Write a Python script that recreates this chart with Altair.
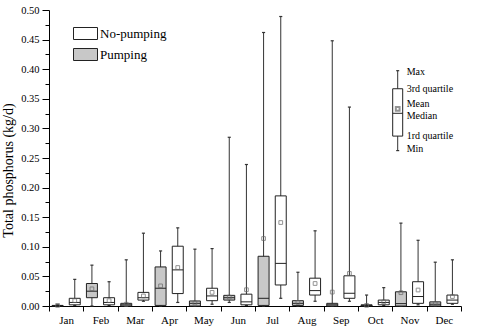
import json
import altair as alt
import pandas as pd

months = ["Jan", "Feb", "Mar", "Apr", "May", "Jun", "Jul", "Aug", "Sep", "Oct", "Nov", "Dec"]
groups = ["No-pumping", "Pumping"]

# Pumping (grey boxes)
p_min = [0.0, 0.0, 0.0, 0.0, 0.0, 0.006, 0.0, 0.0, 0.0, 0.0, 0.0, 0.0]
p_q1 = [0.0, 0.014, 0.0, 0.001, 0.0, 0.010, 0.001, 0.001, 0.0, 0.0, 0.0, 0.0]
p_med = [0.0005, 0.025, 0.002, 0.030, 0.0045, 0.014, 0.013, 0.0045, 0.002, 0.001, 0.004, 0.003]
p_q3 = [0.001, 0.038, 0.0045, 0.066, 0.0085, 0.018, 0.084, 0.009, 0.0045, 0.002, 0.024, 0.007]
p_max = [0.002, 0.069, 0.078, 0.093, 0.096, 0.285, 0.462, 0.057, 0.448, 0.0185, 0.140, 0.074]
p_mean = [0.001, 0.029, 0.003, 0.034, 0.005, 0.015, 0.114, 0.006, 0.0235, 0.001, 0.0225, 0.004]

# No-pumping (white boxes)
n_min = [0.001, 0.001, 0.008, 0.006, 0.003, 0.001, 0.013, 0.008, 0.008, 0.001, 0.002, 0.003]
n_q1 = [0.002, 0.002, 0.010, 0.021, 0.009, 0.002, 0.0355, 0.0185, 0.013, 0.002, 0.0045, 0.0045]
n_med = [0.006, 0.006, 0.014, 0.061, 0.017, 0.007, 0.072, 0.026, 0.0215, 0.006, 0.016, 0.010]
n_q3 = [0.013, 0.014, 0.023, 0.101, 0.030, 0.020, 0.186, 0.047, 0.051, 0.010, 0.041, 0.0185]
n_max = [0.045, 0.041, 0.123, 0.132, 0.097, 0.239, 0.489, 0.127, 0.336, 0.031, 0.111, 0.078]
n_mean = [0.009, 0.009, 0.017, 0.065, 0.023, 0.0275, 0.141, 0.038, 0.055, 0.007, 0.027, 0.016]

# Key (explanation box) values and labels
key_names = ["Max", "3rd quartile", "Mean", "Median", "1rd quartile", "Min"]
key_vals = [0.3975, 0.367, 0.333, 0.3255, 0.287, 0.2625]
key_label_vals = [0.396, 0.366, 0.341, 0.3215, 0.287, 0.2645]

y_ticks = [round(i * 0.025, 3) for i in range(21)]
x_ticks = [i * 0.5 for i in range(25)]

FONT = "Liberation Serif"
BOX_HALF = 0.16
CAP_HALF = 0.045

rows = []
for i, m in enumerate(months):
    for g, off, vals in [
        ("Pumping", 0.25, (p_min, p_q1, p_med, p_q3, p_max, p_mean)),
        ("No-pumping", 0.75, (n_min, n_q1, n_med, n_q3, n_max, n_mean)),
    ]:
        xc = i + off
        rows.append(dict(month=m, group=g, xc=xc, xl=xc - BOX_HALF, xr=xc + BOX_HALF,
                         cl=xc - CAP_HALF, cr=xc + CAP_HALF,
                         vmin=vals[0][i], q1=vals[1][i], med=vals[2][i],
                         q3=vals[3][i], vmax=vals[4][i], mean=vals[5][i]))
df = pd.DataFrame(rows)

key_df = pd.DataFrame({"name": key_names, "v": key_vals, "lv": key_label_vals})
key_box = pd.DataFrame([dict(vmax=key_vals[0], q3=key_vals[1], mean=key_vals[2],
                             med=key_vals[3], q1=key_vals[4], vmin=key_vals[5])])

month_js = json.dumps(months)
xscale = alt.Scale(domain=[0, 12], nice=False, zero=False)
yscale = alt.Scale(domain=[0, 0.5], nice=False)
xaxis = alt.Axis(values=x_ticks, grid=False, title=None,
                 labelExpr=f"(datum.value % 1 == 0.5) ? {month_js}[floor(datum.value)] : ''",
                 tickOpacity={"condition": {"test": "datum.value % 1 != 0", "value": 0}, "value": 1},
                 tickSize=5, labelPadding=3, labelFont=FONT, labelFontSize=11,
                 labelFlush=False, labelOverlap=False, labelAngle=0)
yaxis = alt.Axis(values=y_ticks, grid=False, title="Total phosphorus (kg/d)",
                 labelExpr="(round(datum.value*40) % 2 == 0) ? format(datum.value, '.2f') : ''",
                 tickSize={"condition": {"test": "round(datum.value*40) % 2 == 1", "value": 4}, "value": 7},
                 labelPadding=3, labelFont=FONT, labelFontSize=10.5, labelOverlap=False,
                 titleFont=FONT, titleFontSize=14, titleFontWeight="normal",
                 titleX=-41, titleY=160, titleAngle=270, titleAlign="center", titleBaseline="middle")


def X(f):
    return alt.X(f"{f}:Q", scale=xscale, axis=xaxis)


def Y(f):
    return alt.Y(f"{f}:Q", scale=yscale, axis=yaxis)


base = alt.Chart(df)
whisk = base.mark_rule(color="#333333", strokeWidth=1).encode(x=X("xc"), y=Y("vmin"), y2="vmax")
cap_top = base.mark_rule(color="#333333", strokeWidth=1.2).encode(x=X("cl"), x2="cr", y=Y("vmax"))
cap_bot = base.mark_rule(color="#333333", strokeWidth=1.2).encode(x=X("cl"), x2="cr", y=Y("vmin"))
boxes = base.mark_rect(stroke="#222222", strokeWidth=1, opacity=1).encode(
    x=X("xl"), x2="xr", y=Y("q1"), y2="q3",
    fill=alt.Fill("group:N",
                  scale=alt.Scale(domain=groups, range=["#ffffff", "#c8c8c8"]),
                  legend=alt.Legend(orient="none", legendX=24, legendY=11, title=None,
                                    symbolType="M-1,-0.5H1V0.5H-1Z", symbolSize=576,
                                    symbolStrokeColor="#222222", symbolStrokeWidth=1,
                                    symbolOpacity=1, labelFont=FONT, labelFontSize=13,
                                    labelColor="black", rowPadding=-8, padding=0,
                                    labelOffset=2)),
)
median = base.mark_rule(color="#222222", strokeWidth=1).encode(x=X("xl"), x2="xr", y=Y("med"))
mean = base.mark_point(shape="square", filled=False, size=14, color="#666666", strokeWidth=1).encode(
    x=X("xc"), y=Y("mean"))

# Key
kb = alt.Chart(key_box)
k_wh = kb.mark_rule(color="#333333").encode(x=alt.value(348.7), y=Y("vmin"), y2="vmax")
k_cap1 = kb.mark_rule(color="#333333", strokeWidth=1.2).encode(x=alt.value(347.2), x2=alt.value(350.2), y=Y("vmax"))
k_cap2 = kb.mark_rule(color="#333333", strokeWidth=1.2).encode(x=alt.value(347.2), x2=alt.value(350.2), y=Y("vmin"))
k_box = kb.mark_rect(fill="white", stroke="#222222", strokeWidth=1).encode(
    x=alt.value(343.7), x2=alt.value(353.7), y=Y("q1"), y2="q3")
k_med = kb.mark_rule(color="#222222").encode(x=alt.value(343.7), x2=alt.value(353.7), y=Y("med"))
k_mean = kb.mark_point(shape="square", filled=False, size=14, color="#666666").encode(
    x=alt.value(348.7), y=Y("mean"))
k_txt = alt.Chart(key_df).mark_text(align="left", baseline="middle", font=FONT, fontSize=10,
                                     color="black").encode(
    x=alt.value(357.7), y=Y("lv"), text="name:N")

chart = alt.layer(whisk, cap_top, cap_bot, boxes, median, mean,
                  k_wh, k_cap1, k_cap2, k_box, k_med, k_mean, k_txt).properties(
    width=412, height=296,
    autosize=alt.AutoSizeParams(type="none"),
    padding={"left": 49, "top": 10, "right": 39, "bottom": 27},
    background="white",
).configure_view(stroke=None).configure_axis(
    domainColor="black", tickColor="black", labelColor="black", titleColor="black",
    domainWidth=1, tickWidth=1,
)

chart.save("out.html", embed_options={"renderer": "svg", "actions": False})
